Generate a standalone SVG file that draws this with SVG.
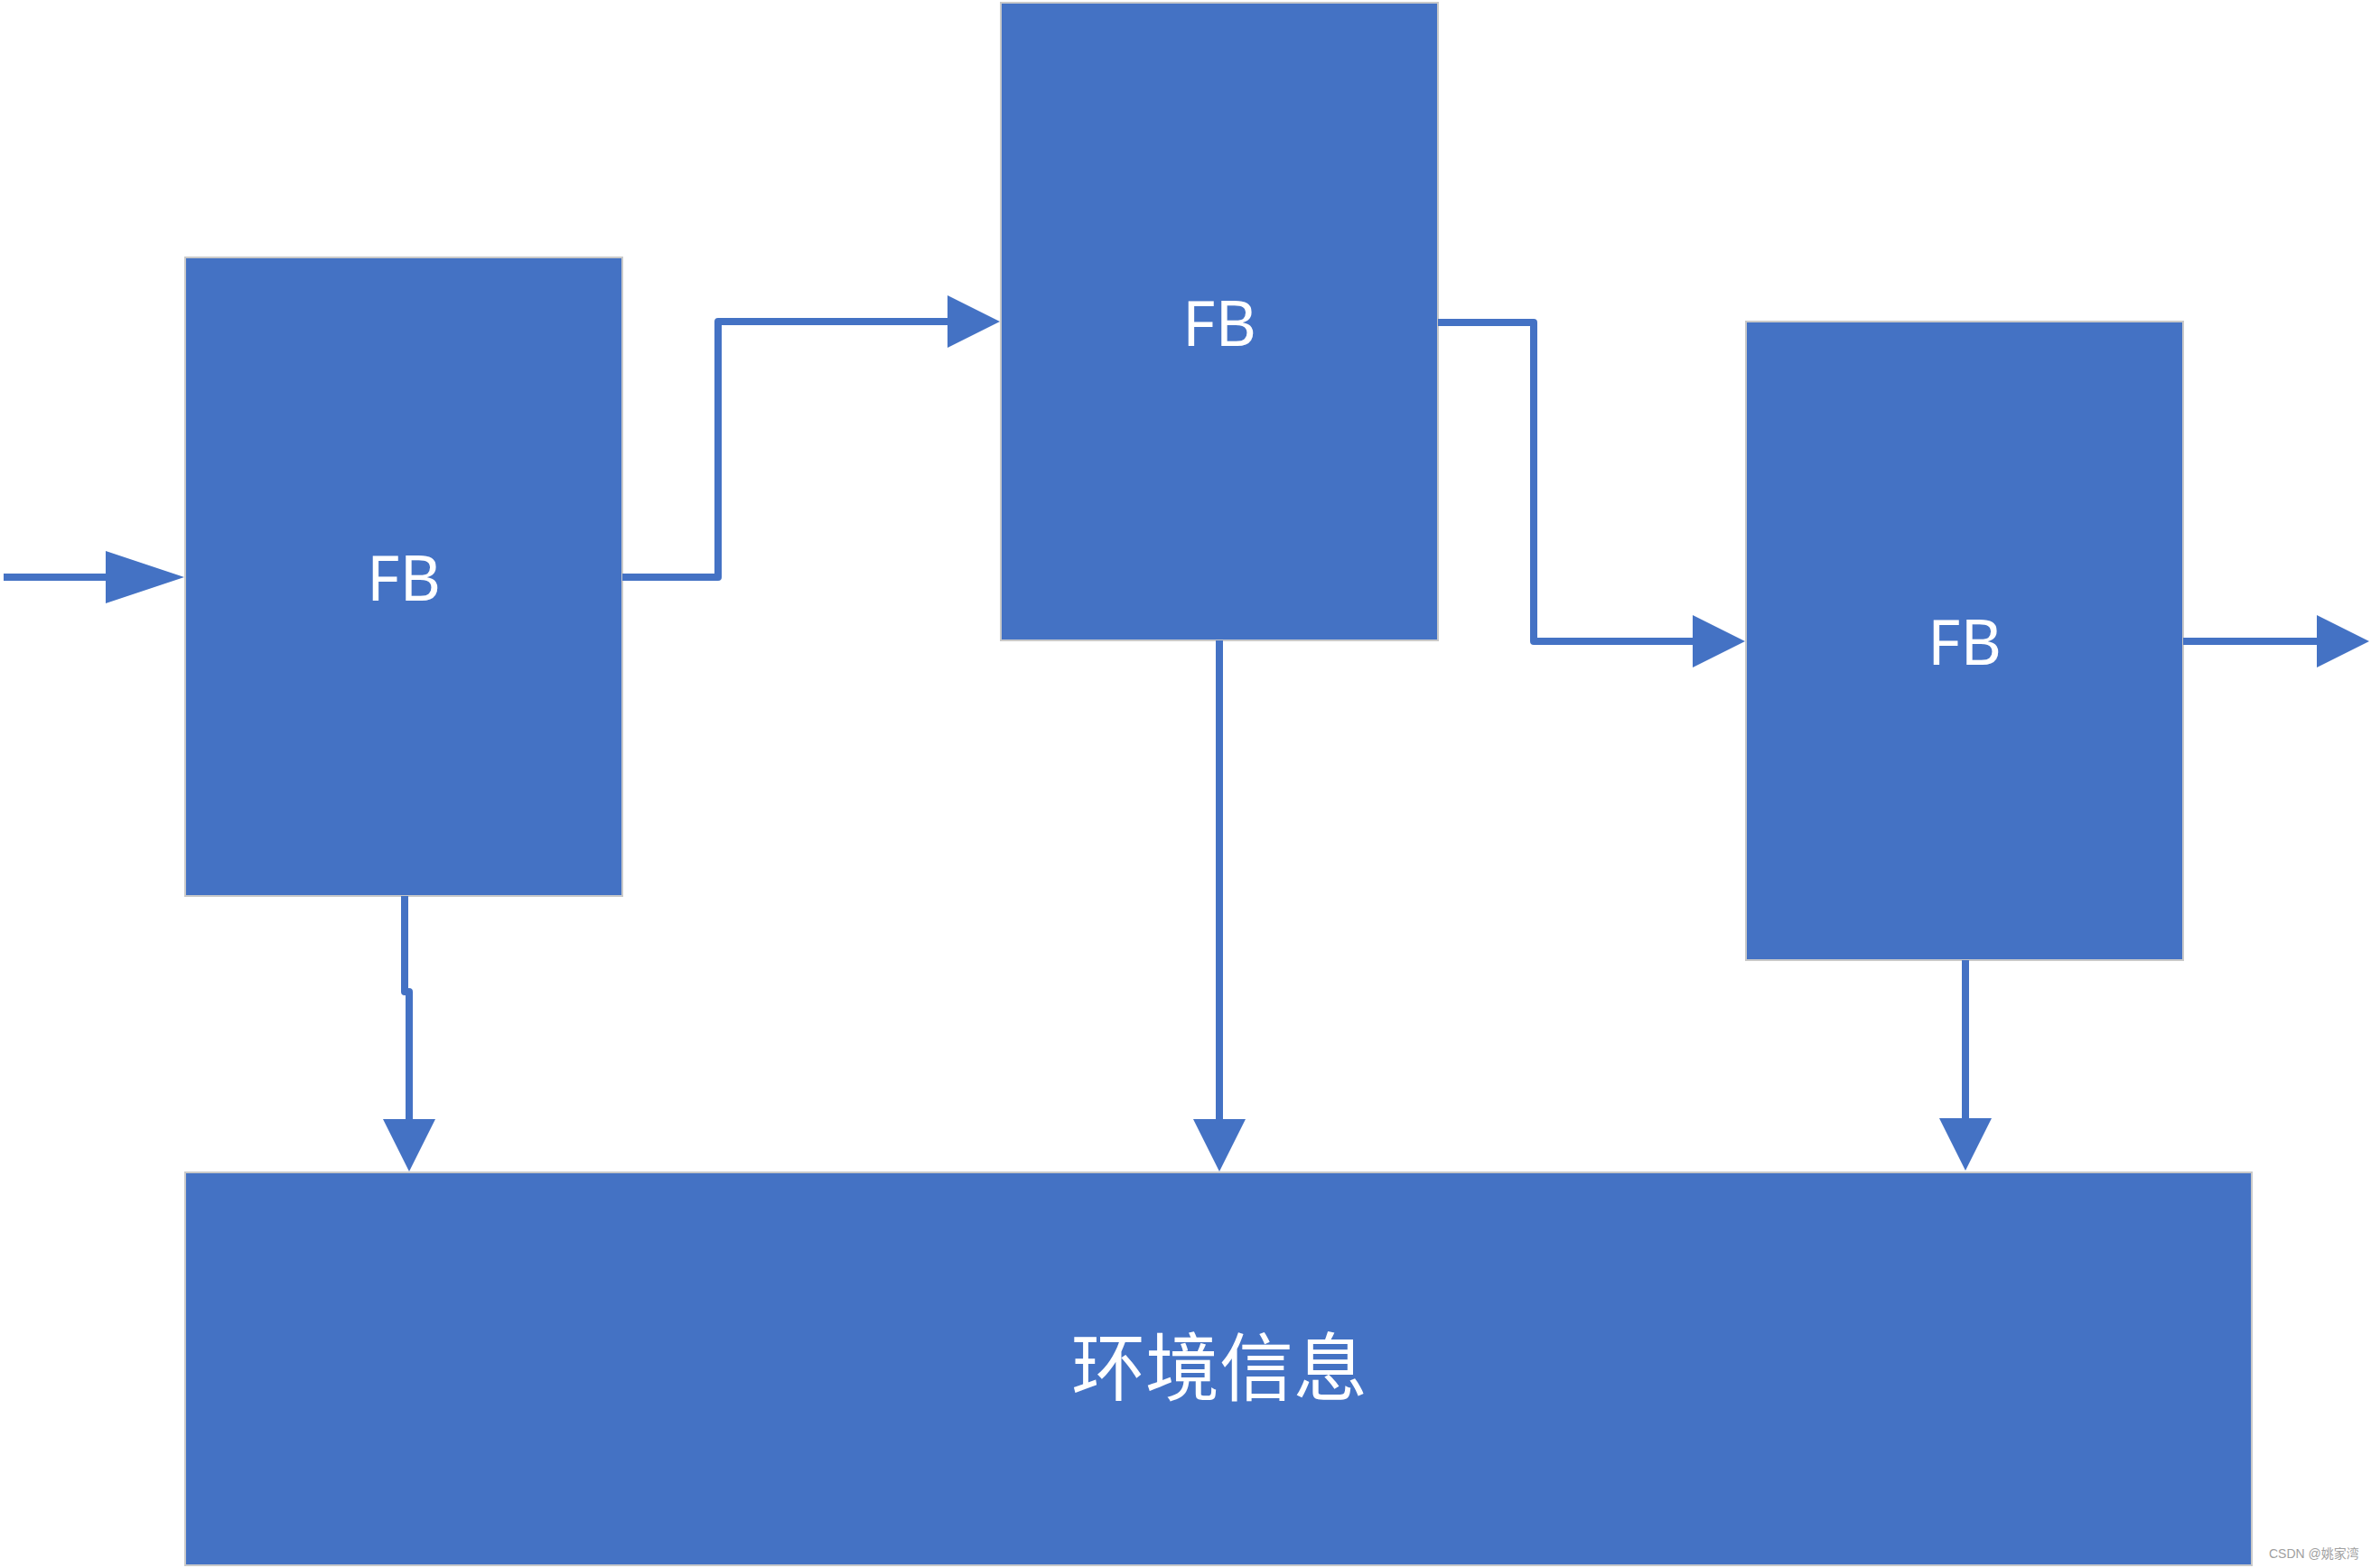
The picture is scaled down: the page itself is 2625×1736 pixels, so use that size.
<svg xmlns="http://www.w3.org/2000/svg" width="2625" height="1736" viewBox="0 0 2625 1736">
<style>
.box{fill:#4472C4;stroke:#C9C9C9;stroke-width:2}
.lbl{fill:#FFFFFF;font-family:"Noto Sans","Open Sans","Liberation Sans",sans-serif;font-size:70px;text-anchor:middle;dominant-baseline:central}
.cjk{fill:#FFFFFF;font-family:"Noto Sans CJK SC","Noto Sans",sans-serif;font-size:82px;text-anchor:middle;dominant-baseline:central}
.con{fill:none;stroke:#4472C4;stroke-width:8;stroke-linejoin:round;stroke-linecap:butt}
.wm{fill:#A0A0A0;font-family:"Liberation Sans","Noto Sans CJK SC",sans-serif;font-size:14px}
</style>
<defs>
<marker id="ah" markerUnits="userSpaceOnUse" markerWidth="58" markerHeight="58" viewBox="0 0 58 58" refX="1" refY="29" orient="auto">
<path d="M0,0 L58,29 L0,58 Z" fill="#4472C4"/>
</marker>
<marker id="ahl" markerUnits="userSpaceOnUse" markerWidth="87" markerHeight="58" viewBox="0 0 87 58" refX="1" refY="29" orient="auto">
<path d="M0,0 L87,29 L0,58 Z" fill="#4472C4"/>
</marker>
</defs>
<rect width="2625" height="1736" fill="#FFFFFF"/>
<g id="fb1">
<rect class="box" x="205" y="285" width="484" height="707"/>
<text class="lbl" x="447" y="638">FB</text>
</g>
<g id="fb2">
<rect class="box" x="1108" y="3" width="484" height="706"/>
<text class="lbl" x="1350" y="356">FB</text>
</g>
<g id="fb3">
<rect class="box" x="1933" y="356" width="484" height="707"/>
<text class="lbl" x="2175" y="709">FB</text>
</g>
<g id="env">
<rect class="box" x="205" y="1298" width="2288" height="435"/>
<text class="cjk" x="1350" y="1508">环境信息</text>
</g>
<g id="connectors">
<path class="con" d="M4,639 H118" stroke-linecap="round" marker-end="url(#ahl)"/>
<path class="con" d="M689,639 H795 V356 H1050" marker-end="url(#ah)"/>
<path class="con" d="M1592,357 H1698 V710 H1875" marker-end="url(#ah)"/>
<path class="con" d="M2417,710 H2566" marker-end="url(#ah)"/>
<path class="con" d="M448,992 V1098 H453 V1240" marker-end="url(#ah)"/>
<path class="con" d="M1350,709 V1240" marker-end="url(#ah)"/>
<path class="con" d="M2176,1063 V1239" marker-end="url(#ah)"/>
</g>
<text class="wm" x="2512" y="1725">CSDN @姚家湾</text>
</svg>
